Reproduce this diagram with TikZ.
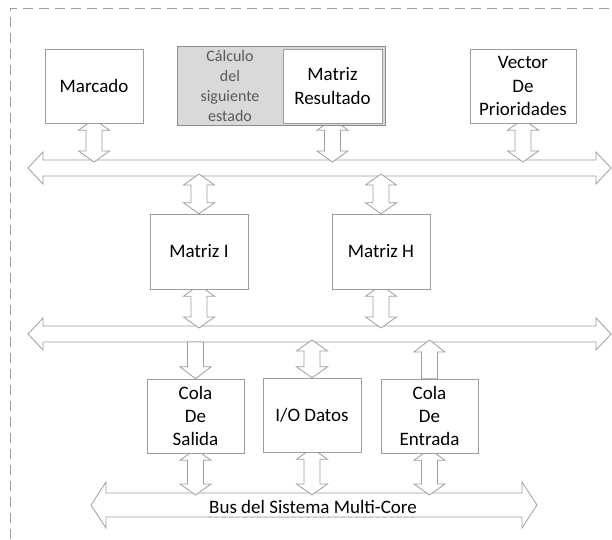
\documentclass[tikz,border=0pt]{standalone}
\usepackage{fontspec}
\setmainfont{Carlito}
\usetikzlibrary{calc,backgrounds}

\definecolor{linegray}{HTML}{9E9E9E}
\definecolor{calcgray}{HTML}{8C8C8C}
\definecolor{calcfill}{HTML}{D9D9D9}
\definecolor{calcink}{HTML}{595959}

\tikzset{
	box/.style={draw=linegray, fill=white, minimum width=98pt, minimum height=74pt,
		inner sep=0pt, align=center, font=\fontsize{19}{23.3}\selectfont},
	blockline/.style={draw=linegray, fill=white, line width=0.8pt},
	frame/.style={draw=linegray, line width=0.9pt, dash pattern=on 10pt off 6pt}
}

% horizontal bus: left tip, right tip, y, shaft half, head half
\newcommand{\hbus}[5]{%
	\draw[blockline] (#1,#3) -- (#1+15,#3-#5) -- (#1+15,#3-#4) -- (#2-15,#3-#4)
		-- (#2-15,#3-#5) -- (#2,#3) -- (#2-15,#3+#5) -- (#2-15,#3+#4)
		-- (#1+15,#3+#4) -- (#1+15,#3+#5) -- cycle;}
% vertical double arrow from tip #1 (top) to tip #2 (bottom)
\newcommand{\vbiarrow}[2]{%
	\draw[blockline] let \p1=#1, \p2=#2 in
		(\x1,\y1) -- ++(15.5pt,-11pt) -- ++(-7.5pt,0pt) -- (\x1+8pt,\y2+11pt)
		-- ++(7.5pt,0pt) -- (\x1,\y2) -- ++(-15.5pt,11pt) -- ++(7.5pt,0pt)
		-- (\x1-8pt,\y1-11pt) -- ++(-7.5pt,0pt) -- cycle;}
% single arrow down: shaft top #1, tip #2
\newcommand{\vdownarrow}[2]{%
	\draw[blockline] let \p1=#1, \p2=#2 in
		(\x1-8pt,\y1) -- (\x1+8pt,\y1) -- (\x1+8pt,\y2+12pt) -- ++(7.5pt,0pt)
		-- (\x1,\y2) -- ++(-15.5pt,12pt) -- ++(7.5pt,0pt) -- cycle;}
% single arrow up: tip #1, shaft bottom #2
\newcommand{\vuparrow}[2]{%
	\draw[blockline] let \p1=#1, \p2=#2 in
		(\x1,\y1) -- ++(15.5pt,-12pt) -- ++(-7.5pt,0pt) -- (\x1+8pt,\y2)
		-- (\x1-8pt,\y2) -- (\x1-8pt,\y1-12pt) -- ++(-7.5pt,0pt) -- cycle;}

\begin{document}
\begin{tikzpicture}[x=1pt,y=-1pt]
	\useasboundingbox (0,0) rectangle (612,539);
	\draw[frame] (10,539) -- (10,8) -- (612,8);

	% top row
	\node[box] (marcado) at (94,86) {Marcado};
	\node[box, fill=calcfill, draw=calcgray, minimum width=208pt, minimum height=79pt] (calculo) at (281,85.5) {};
	\node[font=\fontsize{16}{20}\selectfont, text=calcink, align=center] (calctext) at (230,86) {Cálculo\\del\\siguiente\\estado};
	\node[box, minimum width=99pt] (resultado) at (332.5,86) {Matriz\\Resultado};
	\node[box, minimum width=106pt] (vector) at (523,86) {Vector\\De\\Prioridades};

	% middle row
	\node[box, minimum height=75pt] (matrizi) at (199,251.5) {Matriz I};
	\node[box, minimum height=75pt] (matrizh) at (381,251.5) {Matriz H};

	% bottom row
	\node[box, minimum width=97pt] (salida) at (195.5,416) {Cola\\De\\Salida};
	\node[box] (datos) at (312,415) {I/O Datos};
	\node[box, minimum width=97pt] (entrada) at (429.5,416) {Cola\\De\\Entrada};

	\coordinate (b1n) at (0,162);
	\coordinate (b1s) at (0,174);
	\coordinate (b2n) at (0,328);
	\coordinate (b2s) at (0,340);
	\coordinate (b2bot) at (0,342);
	\coordinate (b3n) at (0,495);
	\coordinate (b3s) at (0,517);

	\begin{pgfonlayer}{background}
		\hbus{28}{611}{168}{8}{16}
		\hbus{28}{611}{334}{8}{16}
		\hbus{91}{537}{505}{12}{23}

		\foreach \b in {marcado,resultado,vector}{
				\vbiarrow{([yshift=4pt]\b.south)}{(\b.south |- b1n)}
			}
		\foreach \b in {matrizi,matrizh}{
				\vbiarrow{(\b.north |- b1s)}{(\b.north)}
				\vbiarrow{([yshift=4pt]\b.south)}{(\b.south |- b2n)}
			}
		\vdownarrow{(salida.north |- b2bot)}{(salida.north)}
		\vbiarrow{(datos.north |- b2s)}{(datos.north)}
		\vuparrow{(entrada.north |- b2s)}{(entrada.north)}
		\foreach \b in {salida,datos,entrada}{
				\vbiarrow{([yshift=4pt]\b.south)}{(\b.south |- b3n)}
			}
	\end{pgfonlayer}

	\node[fill=white, inner sep=1pt, font=\fontsize{19}{23}\selectfont] (bustext) at (313,507) {Bus del Sistema Multi-Core};
	\draw[linegray!60, line width=0.6pt, dash pattern=on 4pt off 3pt] (bustext.west |- b3s) -- (bustext.east |- b3s);
\end{tikzpicture}
\end{document}
